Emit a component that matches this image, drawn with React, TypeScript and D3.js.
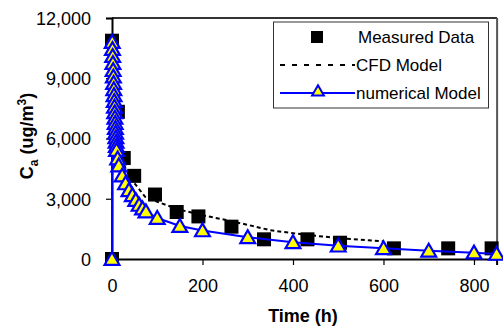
import * as d3 from "d3";
import { useEffect, useRef } from "react";

// Measured data (time h, concentration ug/m3)
const measuredT = [0, 0, 13, 26, 49, 95, 143, 191, 264, 336, 432, 504, 623, 743, 839];
const measuredC = [0, 10870, 7330, 5030, 4140, 3210, 2340, 2120, 1610, 980, 980, 810, 530, 530, 530];

// CFD model (dashed)
const cfdT = [0, 0.5, 2, 5, 10, 20, 30, 47, 73, 100, 150, 200, 250, 300, 350, 430, 500, 600];
const cfdC = [0, 10500, 9200, 7800, 6300, 5100, 4500, 3850, 3100, 2850, 2450, 2180, 1950, 1700, 1430, 1200, 1040, 880];

// numerical model (triangles)
const numT = [
  0, 0.5, 1, 1.5, 2, 2.5, 3, 3.5, 4, 4.5, 5, 5.5, 6, 6.5, 7, 7.5, 8, 8.5, 9, 9.5, 10,
  12.5, 15, 22.5, 30, 37.5, 45, 52.5, 60, 67.5, 75, 100, 150, 200, 300, 400, 500, 600, 700, 800, 850,
];
const numC = [
  0, 10800, 10450, 10100, 9750, 9400, 9080, 8760, 8450, 8150, 7860, 7580, 7300, 7030, 6770, 6520, 6280, 6050, 5830, 5620, 5420,
  5000, 4650, 4150, 3760, 3420, 3170, 2930, 2690, 2510, 2360, 2040, 1640, 1420, 1080, 830, 660, 530, 410, 315, 250,
];

const xTicks = [0, 200, 400, 600, 800];
const yTicks = [0, 3000, 6000, 9000, 12000];

const legendItems = ["Measured Data", "CFD Model", "numerical Model"];

const FONT = "Arial, 'Liberation Sans', sans-serif";

export default function App() {
  const ref = useRef<SVGSVGElement>(null);

  useEffect(() => {
    if (!ref.current) return;
    const svg = d3.select(ref.current);
    svg.selectAll("*").remove();

    const left = 112, right = 496.6, top = 18, bottom = 259;

    const x = d3.scaleLinear().domain([0, 850]).range([left, right]);
    const y = d3.scaleLinear().domain([0, 12000]).range([bottom, top]);

    // frame top + right
    svg.append("line").attr("x1", left).attr("x2", right + 0.5).attr("y1", top).attr("y2", top)
      .attr("stroke", "#333").attr("stroke-width", 2);
    svg.append("line").attr("x1", right + 0.5).attr("x2", right + 0.5).attr("y1", top).attr("y2", bottom)
      .attr("stroke", "#555").attr("stroke-width", 2);

    // axes
    const yAxis = svg.append("g")
      .attr("transform", `translate(${left},0)`)
      .call(d3.axisLeft(y).tickValues(yTicks).tickSize(6).tickPadding(15).tickFormat(d3.format(",")));
    const xAxis = svg.append("g")
      .attr("transform", `translate(0,${bottom})`)
      .call(d3.axisBottom(x).tickValues(xTicks).tickSize(6).tickPadding(14).tickFormat(d3.format("d")));
    [yAxis, xAxis].forEach((g) => {
      g.select(".domain").attr("stroke", "#000").attr("stroke-width", 2);
      g.selectAll(".tick line").attr("stroke", "#000").attr("stroke-width", 1.2);
      g.selectAll(".tick text").attr("fill", "#000").style("font-family", FONT).style("font-size", "18px");
    });
    yAxis.selectAll(".tick text").attr("dy", "0.36em");

    // titles
    svg.append("text").attr("x", 303).attr("y", 322).attr("text-anchor", "middle")
      .style("font-family", FONT).style("font-size", "18px").style("font-weight", "bold")
      .text("Time (h)");
    const yt = svg.append("text").attr("transform", "translate(33,136) rotate(-90)")
      .attr("text-anchor", "middle")
      .style("font-family", FONT).style("font-size", "18px").style("font-weight", "bold");
    yt.append("tspan").text("C");
    yt.append("tspan").attr("dy", 5).style("font-size", "12px").text("a");
    yt.append("tspan").attr("dy", -5).text(" (ug/m");
    yt.append("tspan").attr("dy", -7).style("font-size", "12px").text("3");
    yt.append("tspan").attr("dy", 7).text(")");

    const sq = 14;
    const measured = measuredT.map((t, i) => [t, measuredC[i]] as [number, number]);
    svg.append("g").selectAll("rect").data(measured).enter().append("rect")
      .attr("x", (d) => x(d[0]) - sq / 2).attr("y", (d) => y(d[1]) - sq / 2)
      .attr("width", sq).attr("height", sq).attr("fill", "#000");

    const line = d3.line<[number, number]>().x((d) => x(d[0])).y((d) => y(d[1]));

    const cfd = cfdT.map((t, i) => [t, cfdC[i]] as [number, number]);
    svg.append("path").attr("d", line(cfd)).attr("fill", "none").attr("stroke", "#000")
      .attr("stroke-width", 2).attr("stroke-dasharray", "4,3");

    const num = numT.map((t, i) => [t, numC[i]] as [number, number]);
    svg.append("path").attr("d", line(num)).attr("fill", "none").attr("stroke", "#0000ff")
      .attr("stroke-width", 2);

    const tri = d3.symbol(d3.symbolTriangle, 95);
    svg.append("g").selectAll("path").data(num).enter().append("path")
      .attr("d", tri()).attr("transform", (d) => `translate(${x(d[0])},${y(d[1]) + 1.5})`)
      .attr("fill", "#ffff00").attr("stroke", "#0000ff").attr("stroke-width", 2.2);

    // legend
    const lg = svg.append("g");
    lg.append("rect").attr("x", 273.5).attr("y", 22).attr("width", 215).attr("height", 86)
      .attr("fill", "#fff").attr("stroke", "#333").attr("stroke-width", 1);
    const rowY = [37, 65, 93];
    lg.append("rect").attr("x", 317 - 6).attr("y", rowY[0] - 6).attr("width", 12).attr("height", 12).attr("fill", "#000");
    lg.append("line").attr("x1", 280).attr("x2", 355).attr("y1", rowY[1]).attr("y2", rowY[1])
      .attr("stroke", "#000").attr("stroke-width", 2).attr("stroke-dasharray", "5,7");
    lg.append("line").attr("x1", 280).attr("x2", 355).attr("y1", rowY[2]).attr("y2", rowY[2])
      .attr("stroke", "#0000ff").attr("stroke-width", 2);
    lg.append("path").attr("d", d3.symbol(d3.symbolTriangle, 60)()).attr("transform", `translate(318,${rowY[2] - 1})`)
      .attr("fill", "#ffff00").attr("stroke", "#0000ff").attr("stroke-width", 2);
    lg.selectAll("text.lt").data(legendItems).enter().append("text")
      .attr("x", (_d, i) => (i === 0 ? 358 : 356)).attr("y", (_d, i) => rowY[i]).attr("dy", "0.36em")
      .style("font-family", FONT).style("font-size", "17px").text((d) => d);
  }, []);

  return (
    <svg ref={ref} width={503} height={329}
      style={{ position: "absolute", left: 0, top: 0, background: "#fff" }} />
  );
}
